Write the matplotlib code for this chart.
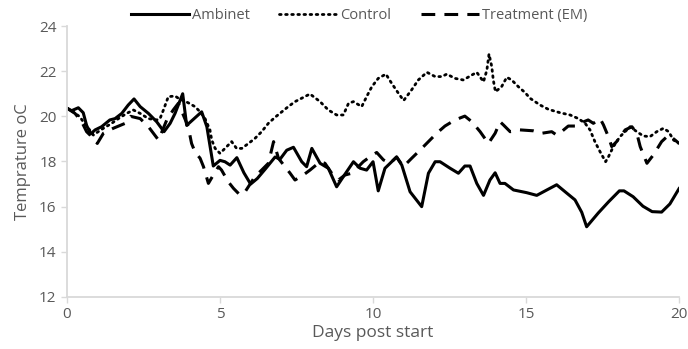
import matplotlib
matplotlib.use("Agg")
import matplotlib.pyplot as plt

# --- data ---
ambient_days = [0, 0.15, 0.37, 0.53, 0.64, 0.77, 0.92, 1.13, 1.4, 1.57, 1.79, 2.0, 2.19, 2.39,
                2.66, 2.93, 3.17, 3.37, 3.53, 3.78, 3.91, 4.4, 4.57, 4.78, 5.0, 5.16, 5.33, 5.55,
                5.78, 6.0, 6.22, 6.5, 6.8, 6.96, 7.18, 7.4, 7.67, 7.83, 8.0, 8.27, 8.54, 8.81,
                9.03, 9.36, 9.58, 9.79, 10.0, 10.17, 10.39, 10.77, 10.94, 11.21, 11.59, 11.81,
                12.03, 12.19, 12.52, 12.79, 13.0, 13.17, 13.39, 13.61, 13.82, 13.99, 14.15,
                14.31, 14.59, 15.02, 15.35, 15.68, 16.0, 16.33, 16.6, 16.82, 16.98, 17.36,
                17.7, 18.05, 18.2, 18.5, 18.82, 19.12, 19.43, 19.7, 20.0]
ambient = [20.36, 20.25, 20.38, 20.16, 19.6, 19.22, 19.4, 19.54, 19.84, 19.9, 20.13, 20.5, 20.77,
           20.43, 20.13, 19.76, 19.32, 19.69, 20.13, 21.0, 19.6, 20.2, 19.54, 17.8, 18.05, 17.99,
           17.84, 18.17, 17.5, 17.0, 17.25, 17.7, 18.2, 18.1, 18.5, 18.63, 17.99, 17.77, 18.58,
           17.92, 17.7, 16.88, 17.33, 17.99, 17.7, 17.62, 17.99, 16.7, 17.7, 18.2, 17.84, 16.66,
           16.0, 17.48, 17.99, 17.99, 17.7, 17.48, 17.8, 17.8, 17.03, 16.5, 17.18, 17.5, 17.03,
           17.03, 16.74, 16.62, 16.5, 16.74, 16.97, 16.6, 16.3, 15.75, 15.11, 15.72, 16.22,
           16.7, 16.7, 16.44, 16.02, 15.78, 15.76, 16.12, 16.8]

control_days = [0, 0.2, 0.42, 0.53, 0.7, 0.86, 1.02, 1.19, 1.46, 1.68, 1.95, 2.17, 2.39, 2.66,
                2.93, 3.04, 3.15, 3.31, 3.53, 3.64, 3.96, 4.18, 4.35, 4.51, 4.67, 4.73, 4.84,
                5.0, 5.22, 5.38, 5.54, 5.71, 5.93, 6.14, 6.36, 6.58, 6.8, 7.02, 7.23, 7.45,
                7.94, 8.27, 8.54, 8.81, 9.03, 9.2, 9.36, 9.63, 9.79, 9.96, 10.17, 10.42, 10.61,
                10.83, 11.0, 11.26, 11.48, 11.76, 12.03, 12.25, 12.41, 12.68, 12.95, 13.23,
                13.39, 13.61, 13.72, 13.79, 13.88, 13.93, 14.0, 14.2, 14.37, 14.53, 14.75,
                14.97, 15.13, 15.46, 15.73, 16.11, 16.44, 16.71, 16.93, 17.09, 17.25, 17.42,
                17.6, 17.69, 17.85, 18.07, 18.4, 18.62, 18.83, 19.05, 19.27, 19.49, 19.66,
                19.82, 20.0]
control = [20.36, 20.2, 19.98, 19.76, 19.47, 19.17, 19.32, 19.47, 19.69, 19.9, 20.13, 20.28,
           20.13, 19.9, 19.84, 19.9, 20.28, 20.87, 20.9, 20.8, 20.6, 20.43, 20.2, 19.9, 19.4,
           18.95, 18.58, 18.36, 18.66, 18.88, 18.58, 18.58, 18.8, 19.02, 19.32, 19.69, 19.96,
           20.2, 20.43, 20.65, 20.99, 20.65, 20.28, 20.06, 20.06, 20.58, 20.65, 20.43, 20.87,
           21.31, 21.68, 21.87, 21.46, 21.02, 20.7, 21.17, 21.61, 21.95, 21.76, 21.76, 21.87,
           21.68, 21.61, 21.83, 21.95, 21.53, 22.05, 22.76, 22.2, 21.61, 21.09, 21.31, 21.73,
           21.61, 21.31, 21.05, 20.8, 20.5, 20.31, 20.16, 20.06, 19.9, 19.69, 19.4, 18.88,
           18.43, 17.99, 18.2, 18.65, 19.1, 19.54, 19.32, 19.13, 19.1, 19.32, 19.47, 19.32,
           18.95, 18.8]

treatment_days = [0, 0.26, 0.48, 0.64, 0.86, 0.99, 1.19, 1.51, 1.9, 2.08, 2.39, 2.66, 2.99,
                  3.26, 3.47, 3.64, 3.96, 4.07, 4.18, 4.35, 4.46, 4.62, 4.78, 4.95, 5.05,
                  5.27, 5.44, 5.65, 5.82, 6.14, 6.36, 6.58, 6.75, 6.91, 7.29, 7.45, 7.72,
                  7.94, 8.27, 8.43, 8.65, 8.87, 9.08, 9.3, 9.47, 9.68, 9.9, 10.12, 10.34,
                  10.56, 10.77, 10.99, 11.26, 11.54, 11.81, 12.08, 12.35, 12.68, 13.0, 13.23,
                  13.5, 13.77, 13.99, 14.15, 14.26, 14.48, 14.8, 15.23, 15.51, 15.84, 16.0,
                  16.16, 16.38, 16.6, 16.76, 17.03, 17.2, 17.42, 17.53, 17.69, 17.8, 17.96,
                  18.24, 18.46, 18.62, 18.73, 18.95, 19.16, 19.43, 19.66, 19.87, 20.0]
treatment = [20.36, 20.13, 19.76, 19.32, 19.03, 18.8, 19.25, 19.47, 19.69, 20.0, 19.9, 19.54,
             18.95, 19.84, 20.28, 20.58, 19.54, 18.8, 18.43, 18.14, 17.77, 17.03, 17.4, 17.77,
             17.62, 17.1, 16.81, 16.52, 16.66, 17.33, 17.62, 17.92, 18.88, 18.14, 17.48, 17.18,
             17.4, 17.62, 17.99, 17.92, 17.48, 17.18, 17.4, 17.48, 17.7, 17.99, 18.21, 18.4,
             18.07, 17.92, 18.2, 17.77, 18.14, 18.51, 18.88, 19.25, 19.57, 19.84, 20.01, 19.76,
             19.32, 18.8, 19.25, 19.76, 19.62, 19.32, 19.4, 19.36, 19.25, 19.32, 19.17, 19.32,
             19.57, 19.57, 19.69, 19.84, 19.69, 19.9, 19.62, 19.1, 18.66, 18.88, 19.4, 19.54,
             19.25, 18.66, 17.92, 18.29, 18.88, 19.17, 18.95, 18.8]

x_ticks = [0, 5, 10, 15, 20]
y_ticks = [12, 14, 16, 18, 20, 22, 24]

plt.rcParams["font.family"] = ["Open Sans", "DejaVu Sans"]
grey = "#595959"
axis_grey = "#d9d9d9"

fig = plt.figure(figsize=(6.88, 3.49), dpi=100)
ax = fig.add_axes([0.0974, 0.149, 0.8896, 0.7765])

ax.plot(ambient_days, ambient, color="black", linewidth=2.2, label="Ambinet")
ax.plot(control_days, control, color="black", linewidth=2.0, linestyle=(0, (0.6, 1.6)),
        dash_capstyle="round", label="Control")
ax.plot(treatment_days, treatment, color="black", linewidth=2.2, linestyle=(0, (4.5, 3.0)),
        label="Treatment (EM)")

ax.set_xlim(0, 20)
ax.set_ylim(12, 24)
ax.set_xticks(x_ticks)
ax.set_yticks(y_ticks)

for side in ("top", "right"):
    ax.spines[side].set_visible(False)
for side in ("left", "bottom"):
    ax.spines[side].set_color(axis_grey)
    ax.spines[side].set_linewidth(1.3)
ax.tick_params(colors=axis_grey, labelcolor=grey, labelsize=11, length=4, width=1.0)

ax.set_xlabel("Days post start", color=grey, fontsize=12.5, labelpad=2)
ax.set_ylabel("Temprature oC", color=grey, fontsize=12, labelpad=6)

fig.legend(loc="upper center", bbox_to_anchor=(0.522, 1.015), ncol=3, frameon=False,
           fontsize=10.5, labelcolor=grey, handlelength=4.0, handletextpad=0.2,
           columnspacing=2.0)

fig.savefig("out.png", dpi=100)
